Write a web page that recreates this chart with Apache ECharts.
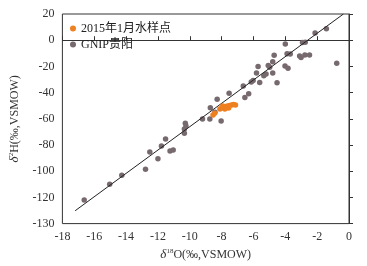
<!DOCTYPE html>
<html>
<head>
<meta charset="utf-8">
<script src="https://cdn.jsdelivr.net/npm/echarts@6/dist/echarts.min.js"></script>
<style>
html,body{margin:0;padding:0;background:#fff;}
#chart{width:367px;height:266px;}
</style>
</head>
<body>
<div id="chart"></div>
<script>
// ---- data ----
var seriesNames = ['2015年1月水样点', 'GNIP贵阳'];

var sample2015 = [
  [-8.54, -57.1], [-8.44, -55.8], [-8.11, -52.5], [-7.99, -51.8], [-7.87, -51.4],
  [-7.74, -50.6], [-7.62, -50.2], [-7.50, -49.8], [-7.37, -49.5], [-7.25, -49.1],
  [-7.13, -49.5], [-7.80, -52.5], [-7.56, -51.8], [-7.93, -50.2]
];

var gnipGuiyang = [
  [-16.63, -122.0], [-15.03, -110.0], [-14.27, -103.1], [-12.78, -98.5], [-12.51, -85.3],
  [-12.00, -90.5], [-11.78, -80.8], [-11.52, -75.4], [-11.24, -84.6], [-11.04, -83.8],
  [-10.28, -63.4], [-10.24, -65.5], [-10.34, -67.8], [-10.34, -71.1], [-9.20, -60.2],
  [-8.74, -60.2], [-8.71, -51.5], [-8.42, -55.0], [-8.28, -45.1], [-8.03, -61.7],
  [-7.53, -40.5], [-6.64, -35.0], [-6.54, -43.7], [-6.30, -40.9], [-6.14, -31.9],
  [-6.02, -30.8], [-5.81, -25.0], [-5.71, -20.1], [-5.61, -32.3], [-5.35, -27.1],
  [-5.21, -25.8], [-5.07, -19.3], [-4.98, -20.7], [-4.79, -16.4], [-4.79, -25.0],
  [-4.70, -11.5], [-4.52, -32.4], [-4.00, -2.9], [-4.02, -19.7], [-3.83, -21.4],
  [-3.89, -10.3], [-3.69, -10.5], [-3.10, -12.1], [-3.01, -13.2], [-2.77, -11.3],
  [-2.48, -11.3], [-2.92, -1.8], [-2.75, -1.6], [-2.13, 5.5], [-1.42, 8.7],
  [-0.77, -17.6]
];

var waterLine = [[-17.2, -130.2], [-0.35, 20]];

var xTicks = [-18, -16, -14, -12, -10, -8, -6, -4, -2, 0];
var yTicks = [20, 0, -20, -40, -60, -80, -100, -120, -140];
var yTickLabels = ['20', '0', '-20', '-40', '-60', '-80', '-100', '-120', '-130'];

// ---- chart ----
var FONT = "'Liberation Serif','Noto Sans CJK SC',serif";
var chart = echarts.init(document.getElementById('chart'), null, {renderer: 'canvas'});
var axisText = {color: '#333', fontFamily: FONT, fontSize: 12};

chart.setOption({
  animation: false,
  backgroundColor: '#fff',
  grid: {left: 56, top: 14, right: 18, bottom: 42, show: true, borderColor: '#333', borderWidth: 1},
  legend: {
    orient: 'vertical', left: 65, top: 17, itemGap: 3,
    itemWidth: 6, itemHeight: 6,
    textStyle: {color: '#222', fontFamily: FONT, fontSize: 12, lineHeight: 13},
    data: [
      {name: seriesNames[0], icon: 'circle'},
      {name: seriesNames[1], icon: 'circle'}
    ]
  },
  xAxis: {
    type: 'value', min: xTicks[0], max: xTicks[xTicks.length - 1], interval: 2,
    splitLine: {show: false},
    axisLine: {lineStyle: {color: '#333', width: 1}},
    axisTick: {inside: true, length: 4, lineStyle: {color: '#333'}},
    axisLabel: Object.assign({margin: 7}, axisText),
    name: '{d|δ}{sup|18}{n|O(‰,VSMOW)}',
    nameLocation: 'middle', nameGap: 23,
    nameTextStyle: {
      color: '#333', fontFamily: FONT, fontSize: 12,
      rich: {
        d: {fontFamily: FONT, fontStyle: 'italic', fontSize: 13, color: '#333', lineHeight: 14},
        sup: {fontFamily: FONT, fontSize: 7, color: '#333', verticalAlign: 'top', lineHeight: 14, padding: [0, 0, 6, 0]},
        n: {fontFamily: FONT, fontSize: 12, color: '#333', lineHeight: 14}
      }
    }
  },
  yAxis: {
    type: 'value', min: yTicks[yTicks.length - 1], max: yTicks[0], interval: 20,
    splitLine: {show: false},
    axisLine: {lineStyle: {color: '#333', width: 1}},
    axisTick: {inside: true, length: 4, lineStyle: {color: '#333'}},
    axisLabel: Object.assign({
      margin: 8,
      formatter: function (v) {
        var i = yTicks.indexOf(v);
        return i >= 0 ? yTickLabels[i] : String(v);
      }
    }, axisText),
    name: '{d|δ}{sup|2}{n|H(‰,VSMOW)}',
    nameLocation: 'middle', nameGap: 32, nameRotate: 90,
    nameTextStyle: {
      color: '#333', fontFamily: FONT, fontSize: 12,
      rich: {
        d: {fontFamily: FONT, fontStyle: 'italic', fontSize: 13, color: '#333', lineHeight: 14},
        sup: {fontFamily: FONT, fontSize: 7, color: '#333', verticalAlign: 'top', lineHeight: 14, padding: [0, 0, 6, 0]},
        n: {fontFamily: FONT, fontSize: 12, color: '#333', lineHeight: 14}
      }
    }
  },
  series: [
    {
      name: 'LMWL', type: 'line', data: waterLine, showSymbol: false, symbol: 'none',
      lineStyle: {color: '#222', width: 1}, z: 3, silent: true
    },
    {
      name: seriesNames[1], type: 'scatter', data: gnipGuiyang, symbolSize: 5.5,
      itemStyle: {color: '#776a6e', opacity: 1}, z: 2
    },
    {
      name: seriesNames[0], type: 'scatter', data: sample2015, symbolSize: 5.5,
      itemStyle: {color: '#ef8022', opacity: 1}, z: 4
    }
  ]
});
</script>
</body>
</html>
